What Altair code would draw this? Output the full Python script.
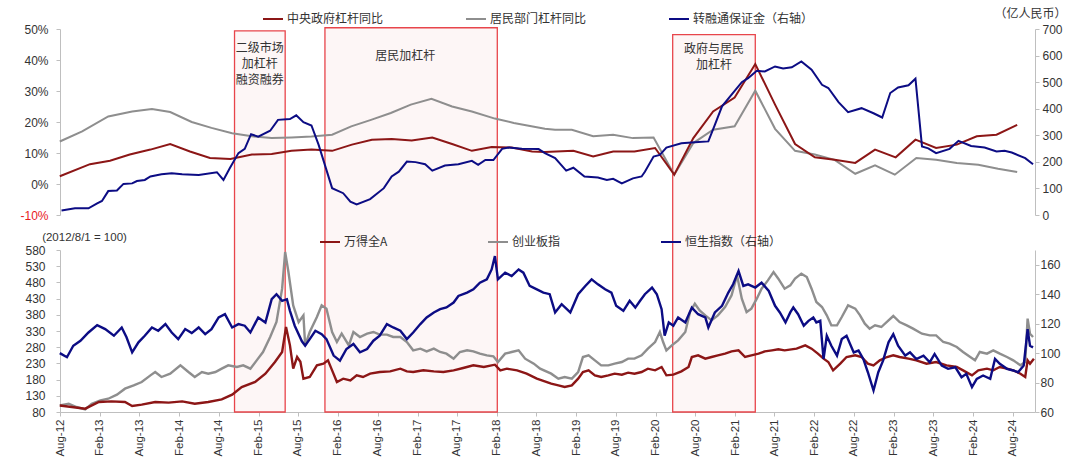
import altair as alt
import pandas as pd

# ---------------- data ----------------
top_names = ["中央政府杠杆同比", "居民部门杠杆同比", "转融通保证金（右轴）"]
bot_names = ["万得全A", "创业板指", "恒生指数（右轴）"]

gov_years = [2012.58, 2012.96, 2013.21, 2013.46, 2013.72, 2013.97, 2014.22, 2014.47, 2014.73, 2015.00,
             2015.25, 2015.50, 2015.75, 2016.01, 2016.26, 2016.51, 2016.76, 2017.01, 2017.27, 2017.52,
             2017.77, 2018.02, 2018.27, 2018.53, 2018.69, 2019.05, 2019.30, 2019.55, 2019.82, 2020.08,
             2020.32, 2020.56, 2020.81, 2021.08, 2021.34, 2021.59, 2021.84, 2022.09, 2022.34, 2022.60,
             2022.85, 2023.11, 2023.36, 2023.62, 2023.88, 2024.13, 2024.38, 2024.64]
gov_vals = [2.5, 6.4, 7.5, 9.5, 11.1, 12.9, 10.5, 8.4, 8.1, 9.5,
            9.7, 10.7, 11.1, 10.7, 12.7, 14.3, 14.5, 14.0, 15.0, 12.9,
            10.7, 11.9, 11.8, 10.5, 10.3, 10.7, 8.9, 10.5, 10.5, 11.6,
            3.0, 14.8, 23.4, 27.9, 38.7, 25.6, 12.9, 8.6, 7.8, 6.8,
            11.1, 8.6, 14.3, 11.6, 12.7, 15.4, 15.9, 19.1]

hh_years = [2012.58, 2012.86, 2013.19, 2013.49, 2013.74, 2013.97, 2014.24, 2014.49, 2014.75, 2015.00,
            2015.25, 2015.50, 2015.75, 2016.01, 2016.25, 2016.50, 2016.75, 2017.00, 2017.26, 2017.52,
            2017.77, 2018.06, 2018.30, 2018.69, 2018.82, 2019.03, 2019.30, 2019.55, 2019.80, 2020.06,
            2020.32, 2020.56, 2020.81, 2021.08, 2021.34, 2021.59, 2021.84, 2022.09, 2022.34, 2022.60,
            2022.85, 2023.10, 2023.37, 2023.62, 2023.88, 2024.15, 2024.40, 2024.64]
hh_vals = [13.7, 17.0, 21.8, 23.4, 24.2, 23.2, 20.0, 18.1, 16.4, 15.4,
           14.8, 15.0, 15.3, 15.9, 18.6, 20.7, 22.9, 25.6, 27.5, 25.0,
           23.4, 21.1, 19.7, 17.8, 17.5, 17.5, 15.4, 15.9, 14.8, 15.0,
           3.0, 13.2, 17.5, 18.6, 30.1, 17.8, 10.7, 9.5, 7.8, 3.3,
           6.0, 3.0, 8.4, 7.8, 6.8, 6.2, 4.9, 3.9]

margin_years = [2012.60, 2012.77, 2012.94, 2013.05, 2013.11, 2013.19, 2013.30, 2013.38, 2013.49, 2013.55,
                2013.65, 2013.72, 2013.86, 2013.99, 2014.12, 2014.33, 2014.56, 2014.64, 2014.72, 2014.83,
                2014.91, 2014.99, 2015.08, 2015.23, 2015.33, 2015.48, 2015.56, 2015.65, 2015.75, 2015.84,
                2016.01, 2016.15, 2016.24, 2016.32, 2016.49, 2016.66, 2016.76, 2016.85, 2016.95, 2017.06,
                2017.18, 2017.27, 2017.43, 2017.60, 2017.77, 2017.85, 2017.94, 2018.04, 2018.15, 2018.23,
                2018.40, 2018.61,
                2018.69, 2018.82, 2018.96, 2019.05, 2019.19, 2019.36, 2019.47, 2019.55, 2019.66, 2019.80,
                2019.91, 2019.95, 2020.06, 2020.14, 2020.22, 2020.41, 2020.58, 2020.75, 2020.83, 2020.92,
                2021.04, 2021.17, 2021.25, 2021.36, 2021.46, 2021.59, 2021.69, 2021.80, 2021.92, 2022.05,
                2022.18, 2022.26, 2022.39, 2022.51, 2022.68, 2022.83, 2022.94, 2023.04, 2023.14, 2023.27,
                2023.36, 2023.44, 2023.52, 2023.62, 2023.79, 2023.90, 2024.06, 2024.23, 2024.38, 2024.48,
                2024.57, 2024.74, 2024.84]
margin_vals = [17, 25, 25, 44, 53, 90, 92, 117, 119, 128,
               132, 145, 153, 157, 153, 151, 161, 132, 176, 233,
               249, 304, 295, 317, 358, 361, 375, 349, 337, 264,
               101, 82, 50, 40, 60, 101, 145, 163, 201, 199,
               191, 167, 186, 191, 204, 189, 207, 207, 249, 254,
               249, 248,
               233, 214, 167, 178, 145, 141, 132, 136, 119, 138,
               145, 163, 220, 226, 254, 270, 274, 277, 339, 409,
               453, 500, 515, 543, 540, 559, 551, 556, 578, 547,
               490, 478, 425, 387, 402, 383, 367, 459, 480, 488,
               513, 258, 251, 233, 249, 279, 260, 254, 239, 242,
               235, 214, 191]

winda_years = [2012.58, 2012.73, 2012.90, 2013.07, 2013.23, 2013.40, 2013.49, 2013.61, 2013.78, 2013.95,
               2014.12, 2014.28, 2014.45, 2014.62, 2014.75, 2014.87, 2015.04, 2015.17, 2015.29, 2015.38,
               2015.43, 2015.48, 2015.52, 2015.57, 2015.61, 2015.65,
               2015.73, 2015.82, 2015.90, 2015.96, 2016.01, 2016.07, 2016.15, 2016.24, 2016.32, 2016.40,
               2016.49, 2016.61, 2016.74, 2016.87, 2016.95, 2017.03, 2017.16, 2017.29, 2017.41, 2017.54,
               2017.66, 2017.79, 2017.92, 2018.06, 2018.13, 2018.21, 2018.34, 2018.46, 2018.59,
               2018.77, 2018.86, 2018.94, 2019.03, 2019.11, 2019.17, 2019.24, 2019.32, 2019.40, 2019.49,
               2019.57, 2019.66, 2019.74, 2019.82, 2019.91, 2019.99, 2020.08, 2020.16, 2020.22, 2020.31,
               2020.41, 2020.50, 2020.54, 2020.62, 2020.71, 2020.79, 2020.87, 2020.96, 2021.04, 2021.13,
               2021.21, 2021.29, 2021.38, 2021.46, 2021.55, 2021.63, 2021.71,
               2021.86, 2021.97, 2022.05, 2022.13, 2022.20, 2022.26, 2022.32, 2022.41, 2022.49, 2022.60,
               2022.68, 2022.76, 2022.83, 2022.91, 2023.00, 2023.08, 2023.16, 2023.27, 2023.37, 2023.50,
               2023.62, 2023.75, 2023.88, 2023.96, 2024.07, 2024.15, 2024.26, 2024.34, 2024.42, 2024.51,
               2024.59, 2024.68, 2024.74, 2024.77, 2024.80, 2024.85]
winda_vals = [100, 95.4, 90.3, 110.9, 112.9, 110.9, 98.5, 102.6, 110.9, 108.8,
              112.9, 105.7, 110.9, 119, 133.5, 157, 172.6, 198.3, 234.3, 265,
              342.3, 285.7, 213.7, 249.7, 235, 182.9,
              188, 224, 229.2, 239.4, 208.6, 172.6, 182.9, 177.7, 193.2, 188,
              198.3, 203.4, 205.5, 213.7, 205.5, 203.4, 208.6, 205.5, 203.4, 208.6,
              215.8, 224, 218.9, 226, 208.6, 213.7, 208.6, 198.3, 182.9,
              167.4, 162.3, 157.2, 162.3, 182.9, 203.4, 208.6, 193.2, 188, 193.2,
              198.3, 195.2, 201.4, 198.3, 203.4, 213.7, 208.6, 218.9, 193.2, 195.2,
              205.5, 218.9, 249.7, 254.9, 244.6, 249.7, 254.9, 260, 267.2, 270.3,
              249.7, 254.9, 260, 267.2, 270.3, 273.4, 270.3,
              275.5, 285.7, 275.5, 260, 244.6, 234.3, 208.6, 229.2, 249.7, 254.9,
              249.7, 229.2, 224, 239.4, 249.7, 254.9, 249.7, 244.6, 239.4, 229.2,
              234.3, 224, 218.9, 208.6, 193.2, 208.6, 213.7, 208.6, 218.9, 213.7,
              208.6, 198.3, 188, 239.4, 229.2, 244.6]

cyb_years = [2012.58, 2012.69, 2012.79, 2012.90, 2012.98, 2013.09, 2013.19, 2013.30, 2013.40, 2013.51,
             2013.61, 2013.72, 2013.78, 2013.86, 2013.97, 2014.10, 2014.20, 2014.28, 2014.37, 2014.45,
             2014.54, 2014.62, 2014.70, 2014.81, 2014.89, 2014.98, 2015.06, 2015.14, 2015.23, 2015.31,
             2015.38, 2015.42, 2015.46, 2015.52, 2015.59, 2015.65,
             2015.67, 2015.73, 2015.82, 2015.88, 2015.94, 2016.01, 2016.07, 2016.13, 2016.22, 2016.28,
             2016.36, 2016.45, 2016.53, 2016.61, 2016.70, 2016.78, 2016.87, 2016.95, 2017.03, 2017.12,
             2017.20, 2017.29, 2017.37, 2017.45, 2017.54, 2017.62, 2017.71, 2017.79, 2017.87, 2017.96,
             2018.04, 2018.10, 2018.19, 2018.27, 2018.36, 2018.44, 2018.55, 2018.63,
             2018.77, 2018.86, 2018.94, 2019.03, 2019.11, 2019.17, 2019.24, 2019.32, 2019.40, 2019.49,
             2019.57, 2019.66, 2019.74, 2019.82, 2019.91, 2019.99, 2020.08, 2020.14, 2020.18, 2020.22,
             2020.29, 2020.37, 2020.46, 2020.52, 2020.58, 2020.64, 2020.71, 2020.79, 2020.87, 2020.96,
             2021.04, 2021.11, 2021.17, 2021.23, 2021.29, 2021.36, 2021.42, 2021.50, 2021.57, 2021.63,
             2021.71,
             2021.78, 2021.84, 2021.92, 2021.99, 2022.05, 2022.11, 2022.18, 2022.24, 2022.30, 2022.37,
             2022.43, 2022.51, 2022.60, 2022.66, 2022.72, 2022.78, 2022.85, 2022.93, 2023.02, 2023.08,
             2023.16, 2023.25, 2023.33, 2023.44, 2023.54, 2023.62, 2023.71, 2023.79, 2023.88, 2023.96,
             2024.05, 2024.11, 2024.17, 2024.26, 2024.34, 2024.42, 2024.51, 2024.59, 2024.68, 2024.74,
             2024.77, 2024.80, 2024.84]
cyb_vals = [100, 105.7, 95.4, 88.2, 105.7, 116, 121, 133.5, 152, 162.3,
            172.6, 193, 203.4, 188, 198.3, 224, 203.4, 188, 203.4, 198.3,
            203.4, 213.7, 224, 219, 224, 213.7, 239.4, 265, 311.5, 357.7,
            460.6, 573.8, 512, 409, 357.7, 378,
            285.7, 326.9, 373.2, 409.2, 398.9, 326.9, 296, 321.7, 285.7, 326.9,
            311.5, 321.7, 326.9, 318.7, 318.7, 311.5, 311.5, 296, 270.3, 275.5,
            267.2, 275.5, 265.2, 260, 244.6, 265.2, 270.3, 267.2, 260, 254.9,
            251.8, 234.3, 260, 265.2, 270.3, 244.6, 229.2, 213.7,
            198.3, 182.9, 188, 182.9, 203.4, 249.7, 254.9, 239.4, 224, 224,
            229.2, 234.3, 244.6, 244.6, 254.9, 275.5, 296, 326.9, 296, 270.3,
            285.7, 301.2, 326.9, 388.6, 414.3, 393.8, 378.3, 362.9, 378.3, 404,
            440, 501.8, 429.8, 388.6, 398.9, 429.8, 460.6, 486.3, 512, 491.5,
            460.6,
            470.9, 491.5, 506.9, 496.6, 460.6, 419.5, 404, 378.3, 347.5, 347.5,
            373.2, 409.2, 398.9, 378.3, 352.6, 337.2, 347.5, 342.3, 362.9, 376.3,
            357.7, 347.5, 337.2, 321.7, 316.6, 316.6, 296, 290.9, 280.6, 265.2,
            249.7, 239.4, 265.2, 260, 270.3, 260, 249.7, 239.4, 224, 234.3,
            368, 321.7, 311.5]

hsi_years = [2012.58, 2012.67, 2012.75, 2012.84, 2012.94, 2013.05, 2013.15, 2013.26, 2013.36, 2013.42,
             2013.49, 2013.57, 2013.65, 2013.74, 2013.82, 2013.91, 2013.99, 2014.07, 2014.16, 2014.24,
             2014.33, 2014.41, 2014.49, 2014.58, 2014.66, 2014.75, 2014.83, 2014.91, 2014.98, 2015.08,
             2015.17, 2015.25, 2015.31, 2015.38, 2015.44, 2015.48, 2015.54, 2015.63,
             2015.67, 2015.73, 2015.80, 2015.88, 2015.94, 2016.03, 2016.11, 2016.19, 2016.28, 2016.36,
             2016.45, 2016.53, 2016.61, 2016.70, 2016.78, 2016.87, 2016.95, 2017.03, 2017.12, 2017.20,
             2017.29, 2017.37, 2017.45, 2017.54, 2017.60, 2017.71, 2017.79, 2017.87, 2017.96, 2018.02,
             2018.06, 2018.10, 2018.19, 2018.27, 2018.36, 2018.42, 2018.50, 2018.59, 2018.67,
             2018.75, 2018.82, 2018.90, 2019.01, 2019.11, 2019.20, 2019.28, 2019.36, 2019.45, 2019.53,
             2019.59, 2019.68, 2019.76, 2019.83, 2019.89, 2019.95, 2020.04, 2020.10, 2020.16, 2020.20,
             2020.25, 2020.31, 2020.37, 2020.46, 2020.54, 2020.62, 2020.71, 2020.75, 2020.83, 2020.92,
             2021.00, 2021.06, 2021.13, 2021.19, 2021.25, 2021.34, 2021.42, 2021.51, 2021.59, 2021.65,
             2021.72,
             2021.78, 2021.82, 2021.88, 2021.95, 2022.01, 2022.07, 2022.11, 2022.16, 2022.20, 2022.24,
             2022.30, 2022.37, 2022.43, 2022.49, 2022.58, 2022.64, 2022.70, 2022.76, 2022.83, 2022.89,
             2022.95, 2023.02, 2023.08, 2023.14, 2023.23, 2023.29, 2023.37, 2023.46, 2023.54, 2023.60,
             2023.69, 2023.77, 2023.86, 2023.94, 2024.00, 2024.07, 2024.13, 2024.21, 2024.30, 2024.36,
             2024.42, 2024.51, 2024.59, 2024.65, 2024.72, 2024.77, 2024.80, 2024.84]
hsi_vals = [100, 97.2, 105, 108.4, 114, 119, 116.3, 111.8, 117.4, 110.7,
            100.5, 107.3, 111.8, 117.4, 115.2, 119.7, 114, 109.5, 116.3, 113.6,
            117.4, 112.9, 116.3, 124.2, 126.4, 117.4, 119.7, 118.6, 114, 124.2,
            120.8, 136.6, 140, 135.5, 136.6, 128.7, 118.6, 108,
            105, 109.5, 115.2, 112.9, 109.5, 98.3, 94.9, 102.8, 106.2, 100.5,
            102.8, 108.4, 111.8, 119.7, 117.4, 115.2, 109.5, 114, 119.7, 124.2,
            127.6, 129.8, 131, 134.3, 138.8, 141.1, 143.3, 147.8, 150.1, 156.8,
            165.9, 150.1, 154.6, 152.3, 156.8, 154.6, 145.6, 143.3, 141.1,
            140, 127.6, 133.2, 127.6, 140, 145.6, 150.1, 146.7, 143.3, 141.1,
            132.1, 128.7, 135.5, 130.9, 135.5, 140, 144.5, 140, 129.8, 111.8,
            120.8, 118.6, 124.2, 120.8, 130.9, 126.4, 124.2, 117.4, 127.6, 132.1,
            141.1, 146.7, 155.7, 145.6, 146.7, 144.5, 147.8, 142.2, 132.1, 127.6,
            120.8,
            127.6, 131, 126.4, 118.6, 121.9, 124.2, 120.8, 121.9, 96, 111.8,
            105, 98.3, 109.5, 111.8, 100.5, 101.7, 96, 87, 74.6, 87,
            94.9, 107.3, 112.9, 105, 98.3, 100.5, 96, 98.3, 93.8, 99.4,
            91.5, 89.3, 90.4, 83.6, 85.9, 76.9, 82.5, 84.8, 82.5, 96,
            92.7, 89.3, 88.2, 87, 91.5, 116.3, 105, 103.9]

band_starts = [2014.78, 2015.92, 2020.30]
band_ends = [2015.42, 2018.09, 2021.34]
band_tops = [49.4, 50.4, 48.2]
band_labels = ["二级市场\n加杠杆\n融资融券", "居民加杠杆", "政府与居民\n加杠杆"]
label_years = [2015.10, 2016.93, 2020.82]
label_pos = [45.6, 43.0, 45.3]

tick_months = [(y, m) for y in range(2012, 2025) for m in (2, 8) if (y, m) >= (2012, 8)]

# ---------------- helpers ----------------
def to_date(y):
    yr = int(y)
    start = pd.Timestamp(yr, 1, 1)
    ndays = (pd.Timestamp(yr + 1, 1, 1) - start).days
    return start + pd.Timedelta(days=round((y - yr) * ndays))


def series_df(name, years, vals):
    return pd.DataFrame({"date": [to_date(v) for v in years], "value": vals, "series": name})


RED, GRAY, NAVY = "#8C1616", "#8E8E8E", "#0C0C84"
W, H = 975, 383
TOP_H = 186      # pixel bottom of the upper panel (plot coords)
BOT_TOP = 221    # pixel top of the lower panel (plot coords)
LBL = "#333333"
AX = "#BFBFBF"
CJK = "Noto Sans CJK SC"
LAT = "Liberation Sans"

x_scale = alt.Scale(domain=[alt.DateTime(year=2012, month=8, date=1),
                            alt.DateTime(year=2024, month=11, date=12)])
x_axis = alt.Axis(values=[alt.DateTime(year=y, month=m, date=1) for y, m in tick_months],
                  format="%b-%y", labelAngle=270, grid=False, tickSize=4, labelPadding=3,
                  domainColor=AX, tickColor=AX, labelFont=LAT, labelFontSize=11.5,
                  labelColor=LBL)


def X(field):
    return alt.X(f"{field}:T", scale=x_scale, axis=x_axis, title=None)


common_ax = dict(grid=False, domainColor=AX, tickColor=AX, labelFont=LAT,
                 labelFontSize=12, tickSize=4)

yTL = alt.Scale(domain=[-10, 50], range=[TOP_H, 0], nice=False, zero=False)
axTL = alt.Axis(orient="left", values=[-10, 0, 10, 20, 30, 40, 50],
                labelExpr="datum.value + '%'", labelPadding=8,
                labelColor=alt.condition("datum.value < 0", alt.value("#E8191E"), alt.value(LBL)),
                **common_ax)

yTR = alt.Scale(domain=[0, 700], range=[TOP_H, 0], nice=False)
axTR = alt.Axis(orient="right", values=list(range(0, 701, 100)), labelPadding=3, labelColor=LBL,
                title="（亿人民币）", titleAngle=0, titleX=-5, titleY=-16, titleAlign="center",
                titleBaseline="middle", titleFont=CJK, titleFontSize=12, titleFontWeight="normal",
                titleColor=LBL, **common_ax)

yBL = alt.Scale(domain=[80, 580], range=[H, BOT_TOP], nice=False, zero=False)
axBL = alt.Axis(orient="left", values=list(range(80, 581, 50)), labelPadding=11, labelColor=LBL,
                title="(2012/8/1 = 100)", titleAngle=0, titleX=24, titleY=208, titleAlign="center",
                titleBaseline="middle", titleFont=LAT, titleFontSize=11.5, titleFontWeight="normal",
                titleColor=LBL, **common_ax)

yBR = alt.Scale(domain=[60, 170], range=[H, BOT_TOP], nice=False, zero=False)
axBR = alt.Axis(orient="right", values=list(range(60, 161, 20)), labelPadding=1, labelColor=LBL,
                **common_ax)

top_color = alt.Scale(domain=top_names, range=[RED, GRAY, NAVY])
bot_color = alt.Scale(domain=bot_names, range=[RED, GRAY, NAVY])

leg_common = dict(orient="none", direction="horizontal", symbolType="stroke", symbolSize=400,
                  symbolStrokeWidth=2, labelFont=CJK, labelFontSize=12, labelColor=LBL,
                  labelOffset=3, padding=0, labelLimit=300)
top_legend = alt.Legend(legendX=202, legendY=-21, columnPadding=78, **leg_common)
bot_legend = alt.Legend(legendX=259, legendY=202, columnPadding=96, **leg_common)

# ---------------- frames ----------------
band_df = pd.DataFrame({"start": [to_date(v) for v in band_starts],
                        "end": [to_date(v) for v in band_ends],
                        "top": band_tops})
label_df = pd.DataFrame({"date": [to_date(v) for v in label_years],
                         "pos": label_pos, "label": band_labels})
tl_df = pd.concat([series_df(top_names[1], hh_years, hh_vals),
                   series_df(top_names[0], gov_years, gov_vals)])
tr_df = series_df(top_names[2], margin_years, margin_vals)
bl_df = pd.concat([series_df(bot_names[1], cyb_years, cyb_vals),
                   series_df(bot_names[0], winda_years, winda_vals)])
br_df = series_df(bot_names[2], hsi_years, hsi_vals)

# ---------------- layers ----------------
rects = alt.Chart(band_df).mark_rect(fill="#FDF6F6", stroke="#E8454B", strokeWidth=1.3).encode(
    x=X("start"), x2=alt.X2("end:T"),
    y=alt.Y("top:Q", scale=yTL, axis=axTL, title=None), y2=alt.value(H))

labels = alt.Chart(label_df).mark_text(lineBreak="\n", baseline="top", align="center", font=CJK,
                                       fontSize=12, color=LBL, lineHeight=16).encode(
    x=X("date"), y=alt.Y("pos:Q", scale=yTL, axis=axTL, title=None), text="label:N")

tl_lines = alt.Chart(tl_df).mark_line(strokeWidth=2).encode(
    x=X("date"), y=alt.Y("value:Q", scale=yTL, axis=axTL, title=None),
    color=alt.Color("series:N", scale=top_color, legend=top_legend, title=None))

layer_top_left = alt.layer(rects, labels, tl_lines)

layer_top_right = alt.Chart(tr_df).mark_line(strokeWidth=2).encode(
    x=X("date"), y=alt.Y("value:Q", scale=yTR, axis=axTR),
    color=alt.Color("series:N", scale=top_color, legend=top_legend, title=None))

layer_bot_left = alt.Chart(bl_df).mark_line(strokeWidth=2.4).encode(
    x=X("date"), y=alt.Y("value:Q", scale=yBL, axis=axBL),
    stroke=alt.Stroke("series:N", scale=bot_color, legend=bot_legend, title=None))

layer_bot_right = alt.Chart(br_df).mark_line(strokeWidth=2.4).encode(
    x=X("date"), y=alt.Y("value:Q", scale=yBR, axis=axBR, title=None),
    stroke=alt.Stroke("series:N", scale=bot_color, legend=bot_legend, title=None))

chart = alt.layer(layer_top_left, layer_top_right, layer_bot_left, layer_bot_right).resolve_scale(
    y="independent"
).properties(
    width=W, height=H,
    padding={"left": 60, "top": 29, "right": 45, "bottom": 50},
    autosize=alt.AutoSizeParams(type="none"),
).configure_view(strokeWidth=0)

chart.save("out.html", embed_options={"renderer": "svg", "actions": False})
